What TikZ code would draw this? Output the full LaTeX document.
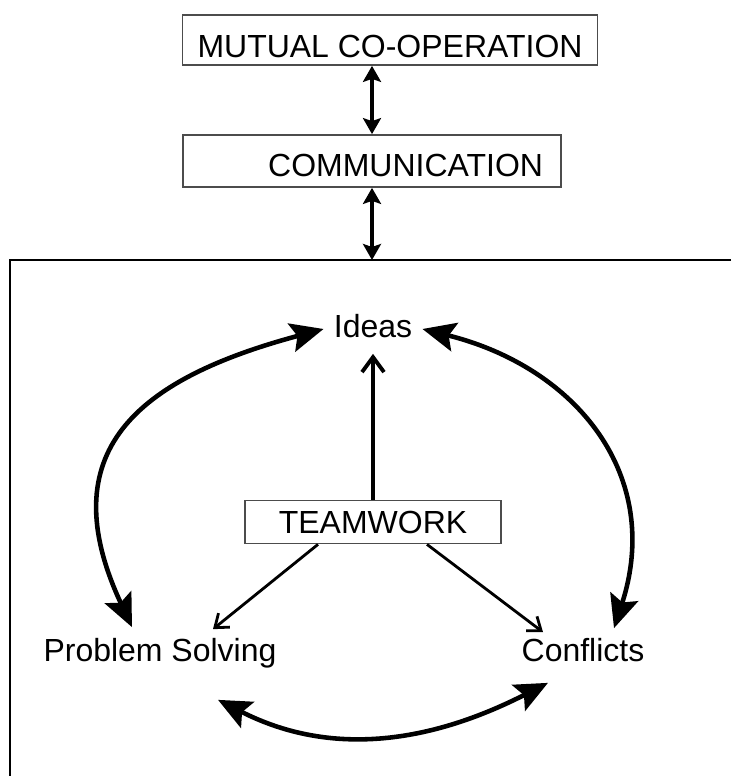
\documentclass[tikz,border=0pt]{standalone}
\usepackage{fontspec}
\setmainfont{Liberation Sans}
\usetikzlibrary{arrows.meta}
\colorlet{boxgray}{black!70}

\tikzset{
  BoxStyle/.style={draw=boxgray, line width=1pt, inner sep=0pt},
  LabelStyle/.style={inner xsep=0.2cm, inner ysep=0.2cm, text height=0.46cm, text depth=0.12cm},
  PairStyle/.style={line width=2.2pt, <->, >={Stealth[length=0.32cm,width=0.36cm,inset=0.06cm]}},
  UpStyle/.style={line width=2.2pt, ->, >={Straight Barb[length=0.3cm,width=0.44cm]}},
  SpokeStyle/.style={line width=1.6pt, ->, >={Straight Barb[length=0.24cm,width=0.36cm]}},
  ArcStyle/.style={line width=2.6pt, <->, >={Stealth[length=0.66cm,width=0.58cm,inset=0.12cm]}}
}

\begin{document}
\begin{tikzpicture}[x=0.02cm, y=0.02cm, font=\fontsize{18.2}{22}\selectfont]
\useasboundingbox (0,0) rectangle (731,-776);

\node[BoxStyle, minimum width=8.3cm, minimum height=1cm, text height=0.7cm, text depth=0cm] (mutual) at (390,-40) {MUTUAL CO-OPERATION};
\node[BoxStyle, minimum width=7.56cm, minimum height=1.04cm, text height=0.62cm, text depth=0cm, text width=6.84cm, align=right] (comm) at (372,-161) {COMMUNICATION};
\coordinate (entry) at (372,-260);
\draw[line width=1.1pt] (731,-260) -- (10,-260) -- (10,-776);

\node[LabelStyle] (ideas) at (373,-329) {Ideas};
\node[BoxStyle, minimum width=5.12cm, minimum height=0.86cm] (team) at (373,-522) {TEAMWORK};
\node[LabelStyle] (ps) at (160,-653) {Problem Solving};
\node[LabelStyle] (cf) at (583,-653) {Conflicts};

\draw[PairStyle] (comm.north) -- (comm.north |- mutual.south);
\draw[PairStyle] (comm) -- (entry);

\draw[UpStyle] (team.north) -- (ideas.south);
\draw[SpokeStyle] ([shift={(-55,0)}]team.south) -- ([shift={(53,-1)}]ps.north);
\draw[SpokeStyle] ([shift={(54,0)}]team.south) -- ([shift={(-40,-4)}]cf.north);

\draw[ArcStyle] (ideas.west) to[out=195, in=115, looseness=1.4] ([shift={(-28,1)}]ps.north);
\draw[ArcStyle] (ideas.east) to[out=-14, in=72, looseness=1.15] ([shift={(31,0)}]cf.north);
\draw[ArcStyle] ([shift={(58,-22)}]ps.south) to[out=-27, in=207] ([shift={(-35,-5)}]cf.south);
\end{tikzpicture}
\end{document}
